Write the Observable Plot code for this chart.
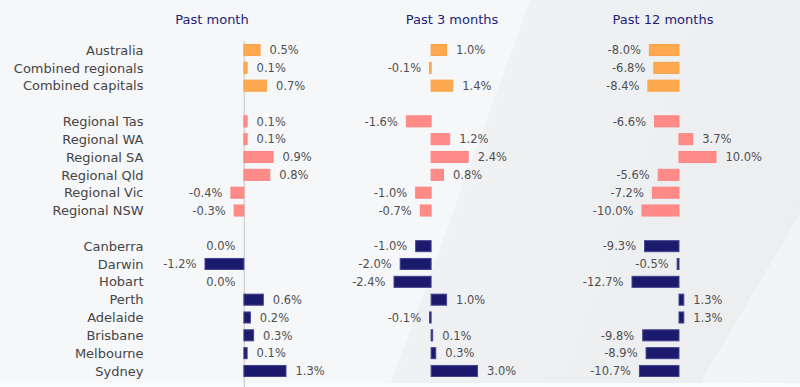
<!DOCTYPE html>
<html>
<head>
<meta charset="utf-8">
<script src="https://cdn.jsdelivr.net/npm/d3@7"></script>
<script src="https://cdn.jsdelivr.net/npm/@observablehq/plot@0.6"></script>
<style>
  html, body { margin: 0; padding: 0; }
  body { width: 800px; height: 387px; overflow: hidden; font-family: "DejaVu Sans", sans-serif; }
  #wrap {
    position: relative; width: 800px; height: 387px;
    background:
      linear-gradient(to bottom, rgba(255,255,255,0) 0px, rgba(255,255,255,0) 383px, rgba(250,251,252,1) 383px),
      linear-gradient(120.6deg, rgba(255,255,255,0) 0%, rgba(255,255,255,0) 90%, rgba(255,255,255,0.35) 90.1%),
      linear-gradient(110deg, #f6f7f9 0%, #f6f7f9 56.3%, #eff1f3 56.4%, #ebedef 100%);
  }
  .panel { position: absolute; top: 0; }
  .title { position: absolute; top: 12px; font-size: 13px; line-height: 16px; color: #221e7a; white-space: nowrap; transform: translateX(-50%); }
</style>
</head>
<body>
<div id="wrap"></div>
<script>
const categories = ["Australia","Combined regionals","Combined capitals","gap1",
  "Regional Tas","Regional WA","Regional SA","Regional Qld","Regional Vic","Regional NSW","gap2",
  "Canberra","Darwin","Hobart","Perth","Adelaide","Brisbane","Melbourne","Sydney"];
const regions = ["Australia","Combined regionals","Combined capitals",
  "Regional Tas","Regional WA","Regional SA","Regional Qld","Regional Vic","Regional NSW",
  "Canberra","Darwin","Hobart","Perth","Adelaide","Brisbane","Melbourne","Sydney"];
const groups = ["national","national","national",
  "regional","regional","regional","regional","regional","regional",
  "capital","capital","capital","capital","capital","capital","capital","capital"];
const pastMonth = [0.5,0.1,0.7, 0.1,0.1,0.9,0.8,-0.4,-0.3, 0.0,-1.2,0.0,0.6,0.2,0.3,0.1,1.3];
const past3Months = [1.0,-0.1,1.4, -1.6,1.2,2.4,0.8,-1.0,-0.7, -1.0,-2.0,-2.4,1.0,-0.1,0.1,0.3,3.0];
const past12Months = [-8.0,-6.8,-8.4, -6.6,3.7,10.0,-5.6,-7.2,-10.0, -9.3,-0.5,-12.7,1.3,1.3,-9.8,-8.9,-10.7];
const panelTitles = ["Past month","Past 3 months","Past 12 months"];

const fills = {national: "#ffa94f", regional: "#ff8a87", capital: "#1c1a6d"};
const strokes = {national: "#f7a24a", regional: "#f98684", capital: "#45438f"};

const panels = [
  {values: pastMonth, left: 0, width: 330, domain: [-1.2, 1.3], range: [205, 286], axis: true, rule: true, titleX: 212},
  {values: past3Months, left: 330, width: 240, domain: [-2.4, 3.0], range: [64, 147.5], axis: false, rule: false, titleX: 452},
  {values: past12Months, left: 570, width: 230, domain: [-12.7, 10.0], range: [62, 146], axis: false, rule: false, titleX: 663}
];

const fmt = v => (v < 0 ? "-" : "") + Math.abs(v).toFixed(1) + "%";
const wrap = document.getElementById("wrap");

panels.forEach((p, k) => {
  const data = regions.map((r, i) => ({region: r, group: groups[i], value: p.values[i]}));
  const marks = [];
  if (p.rule) marks.push(Plot.ruleX([0], {stroke: "#d2d3d6", strokeWidth: 1.5}));
  marks.push(Plot.barX(data, {
    x: "value", y: "region",
    fill: d => fills[d.group], stroke: d => strokes[d.group], strokeWidth: 1
  }));
  marks.push(Plot.text(data.filter(d => d.value > 0), {
    x: "value", y: "region", text: d => fmt(d.value),
    textAnchor: "start", dx: 9, fill: "#505050", fontSize: 11.5
  }));
  marks.push(Plot.text(data.filter(d => d.value <= 0), {
    x: "value", y: "region", text: d => fmt(d.value),
    textAnchor: "end", dx: -9, fill: "#505050", fontSize: 11.5
  }));
  if (p.axis) {
    marks.push(Plot.axisY({
      tickSize: 0, tickPadding: 5, textAnchor: "end", fontSize: 13, fill: "#454545", label: null,
      tickFormat: d => d.startsWith("gap") ? "" : d
    }));
  }
  const chart = Plot.plot({
    width: p.width, height: 387,
    marginTop: 41, marginBottom: 0, marginLeft: 148, marginRight: 0,
    style: {background: "transparent", fontFamily: "'DejaVu Sans', sans-serif", overflow: "visible"},
    x: {domain: p.domain, range: p.range, axis: null},
    y: {domain: categories, range: [41.1, 379.9], paddingInner: 0.38, paddingOuter: 0.19, round: false, axis: null},
    marks
  });
  const div = document.createElement("div");
  div.className = "panel";
  div.style.left = p.left + "px";
  div.appendChild(chart);
  wrap.appendChild(div);
  const t = document.createElement("div");
  t.className = "title";
  t.style.left = p.titleX + "px";
  t.textContent = panelTitles[k];
  wrap.appendChild(t);
});
</script>
</body>
</html>
